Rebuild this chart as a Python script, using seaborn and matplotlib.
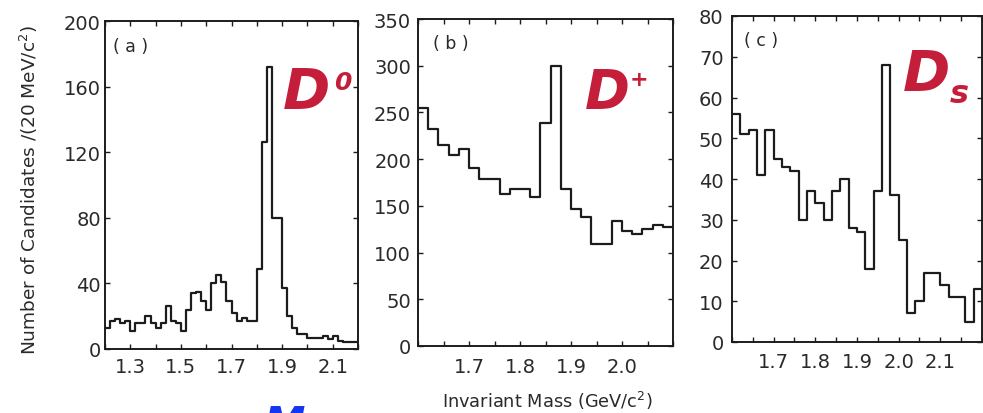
import numpy as np
import pandas as pd
import seaborn as sns
import matplotlib
matplotlib.use("Agg")
import matplotlib.pyplot as plt
from matplotlib.ticker import FixedLocator, MultipleLocator

# ---------------- data ----------------
bin_width = 0.02

d0_range = (1.2, 2.2)
d0_counts = [13, 17, 18, 16, 17, 11, 16, 16, 20, 16,
             13, 16, 26, 17, 16, 11, 24, 34, 35, 29,
             24, 40, 45, 41, 29, 22, 17, 19, 17, 17,
             49, 126, 172, 80, 80, 37, 20, 13, 9, 9,
             7, 7, 7, 8, 6, 8, 5, 4, 4, 4]
d0_xticks = [1.3, 1.5, 1.7, 1.9, 2.1]
d0_xticklabels = ["1.3", "1.5", "1.7", "1.9", "2.1"]
d0_yticks = [0, 40, 80, 120, 160, 200]

dplus_range = (1.6, 2.1)
dplus_counts = [255, 232, 215, 204, 211, 190, 179, 179, 163, 168,
                168, 159, 239, 300, 168, 147, 138, 109, 109, 134,
                123, 120, 125, 130, 127]
dplus_xticks = [1.7, 1.8, 1.9, 2.0]
dplus_xticklabels = ["1.7", "1.8", "1.9", "2.0"]
dplus_yticks = [0, 50, 100, 150, 200, 250, 300, 350]

ds_range = (1.6, 2.2)
ds_counts = [56, 51, 52, 41, 52, 45, 43, 42, 30, 37,
             34, 30, 37, 40, 28, 27, 18, 37, 68, 36,
             25, 7, 10, 17, 17, 14, 11, 11, 5, 13]
ds_xticks = [1.7, 1.8, 1.9, 2.0, 2.1]
ds_xticklabels = ["1.7", "1.8", "1.9", "2.0", "2.1"]
ds_yticks = [0, 10, 20, 30, 40, 50, 60, 70, 80]

panel_tags = ["( a )", "( b )", "( c )"]
ylabel = r"Number of Candidates /(20 MeV/c$^2$)"
xlabel = r"Invariant Mass (GeV/c$^2$)"

# ---------------- style ----------------
sns.set_theme(style="ticks")
plt.rcParams["font.family"] = ["DejaVu Sans"]

W, H = 983, 414
fig = plt.figure(figsize=(W / 100, H / 100), dpi=100)
fig.patch.set_facecolor("white")

ink = "#1c1c1c"
label_col = "#2a2a2a"
red = "#C41E3A"


def px_axes(left, top, right, bottom):
    return fig.add_axes([left / W, 1 - bottom / H, (right - left) / W, (bottom - top) / H])


def draw_panel(ax, rng, counts, xticks, xticklabels, xminor, yticks, tag, tagpos, xpad, ypad):
    n = len(counts)
    edges = np.linspace(rng[0], rng[1], n + 1)
    centers = (edges[:-1] + edges[1:]) / 2
    df = pd.DataFrame({"mass": centers, "count": counts})
    sns.histplot(data=df, x="mass", weights="count", bins=n, binrange=rng, element="step",
                 fill=False, color=ink, linewidth=1.6, ax=ax)
    ax.set_xlim(rng)
    ax.set_ylim(yticks[0], yticks[-1])
    ax.set_xlabel("")
    ax.set_ylabel("")
    ax.xaxis.set_major_locator(FixedLocator(xticks))
    ax.set_xticklabels(xticklabels)
    ax.xaxis.set_minor_locator(MultipleLocator(xminor))
    ax.set_yticks(yticks)
    ax.set_yticklabels([str(v) for v in yticks])
    ax.tick_params(axis="both", which="both", direction="in", top=True, right=True,
                   length=3.5, width=1.0, color=ink, labelsize=14, labelcolor=label_col)
    ax.tick_params(axis="x", which="major", pad=xpad)
    ax.tick_params(axis="y", which="major", pad=ypad)
    for s in ax.spines.values():
        s.set_linewidth(1.4)
        s.set_color(ink)
    ax.set_facecolor("white")
    ax.text(tagpos[0], tagpos[1], tag, transform=ax.transAxes, ha="left", va="top",
            fontsize=12.5, color=label_col)


ax_a = px_axes(105, 22, 358, 350)
draw_panel(ax_a, d0_range, d0_counts, d0_xticks, d0_xticklabels, 0.1, d0_yticks,
           panel_tags[0], (0.03, 0.95), 6, 3)

ax_b = px_axes(418, 20, 673, 347)
draw_panel(ax_b, dplus_range, dplus_counts, dplus_xticks, dplus_xticklabels, 0.05, dplus_yticks,
           panel_tags[1], (0.06, 0.955), 8, 5)

ax_c = px_axes(732, 17, 982, 343)
draw_panel(ax_c, ds_range, ds_counts, ds_xticks, ds_xticklabels, 0.05, ds_yticks,
           panel_tags[2], (0.05, 0.955), 7, 6)

# axis titles
fig.text(29 / W, 1 - 190 / H, ylabel, rotation=90, ha="center", va="center",
         fontsize=13.3, color=label_col)
fig.text(547 / W, 1 - 401 / H, xlabel, ha="center", va="center",
         fontsize=12.8, color=label_col)


# red particle names
def ftxt(x, y, s, size, color=red, va="baseline"):
    fig.text(x / W, 1 - y / H, s, ha="left", va=va, fontsize=size,
             fontweight="bold", fontstyle="italic", color=color)


ftxt(283, 110, "D", 41)
ftxt(334, 90, "0", 18)
ftxt(585, 108, "D", 39)
ftxt(630, 86, "+", 16)
ftxt(903, 92, "D", 41)
ftxt(950, 103, "s", 23)

# blue fragment at the bottom edge (cut off in the reference too)
fig.text(263 / W, 1 - 404 / H, "M", ha="left", va="top", fontsize=30,
         fontweight="bold", fontstyle="italic", color="#1436F2")

fig.savefig("out.png", dpi=100, facecolor="white")
